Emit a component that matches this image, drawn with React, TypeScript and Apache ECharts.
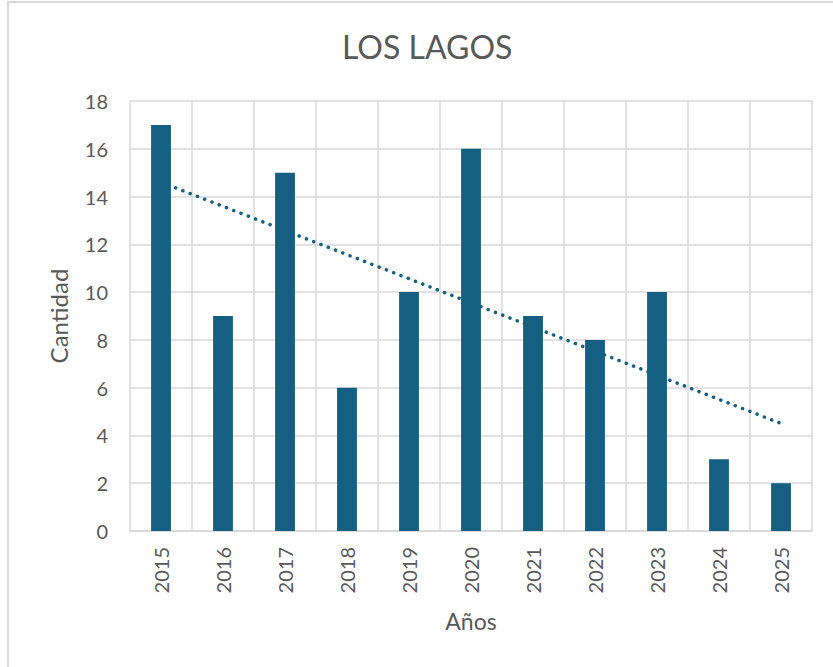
import React, { useEffect, useRef } from "react";
import * as echarts from "echarts";

const titleText = "LOS LAGOS";
const years = ["2015", "2016", "2017", "2018", "2019", "2020", "2021", "2022", "2023", "2024", "2025"];
const cantidad = [17, 9, 15, 6, 10, 16, 9, 8, 10, 3, 2];
// linear trend line: value at 2015 and at 2025
const trend = [14.6, null, null, null, null, null, null, null, null, null, 4.5];
const yTicks = { min: 0, max: 18, interval: 2 };

const FONT = "Lato, 'Open Sans', sans-serif";
const TXT = "#595959";
const GRID = "#d9d9d9";
const BAR = "#156082";

export default function App() {
  const ref = useRef<HTMLDivElement>(null);
  useEffect(() => {
    if (!ref.current) return;
    const chart = echarts.init(ref.current, undefined, { renderer: "svg" });
    chart.setOption({
      animation: false,
      backgroundColor: "#ffffff",
      textStyle: { fontFamily: FONT },
      title: {
        text: titleText,
        left: 337,
        top: 25,
        textStyle: { fontFamily: FONT, fontSize: 32, fontWeight: "normal", color: TXT },
      },
      graphic: [
        {
          type: "rect",
          shape: { x: 8, y: 2, width: 900, height: 800 },
          style: { fill: "none", stroke: GRID, lineWidth: 2 },
          silent: true,
        },
      ],
      grid: { left: 130, right: 21, top: 101, bottom: 136 },
      xAxis: {
        type: "category",
        data: years,
        name: "Años",
        nameLocation: "middle",
        nameGap: 78,
        nameTextStyle: { fontFamily: FONT, fontSize: 23, color: TXT },
        axisLine: { show: true, lineStyle: { color: GRID, width: 2 } },
        axisTick: { show: false },
        splitLine: { show: true, lineStyle: { color: GRID, width: 1.5 } },
        axisLabel: { rotate: 90, margin: 16, fontFamily: FONT, fontSize: 20, color: TXT },
      },
      yAxis: {
        type: "value",
        min: yTicks.min,
        max: yTicks.max,
        interval: yTicks.interval,
        name: "Cantidad",
        nameLocation: "middle",
        nameGap: 60,
        nameTextStyle: { fontFamily: FONT, fontSize: 24, color: TXT },
        axisLine: { show: false },
        axisTick: { show: false },
        splitLine: { show: true, lineStyle: { color: GRID, width: 1.5 } },
        axisLabel: { margin: 22, fontFamily: FONT, fontSize: 20, color: TXT },
      },
      series: [
        {
          type: "line",
          data: trend,
          connectNulls: true,
          symbol: "none",
          z: 2,
          lineStyle: { color: BAR, width: 3.5, type: [0.1, 7.7], cap: "round" },
        },
        {
          type: "bar",
          data: cantidad,
          barWidth: "32%",
          z: 3,
          itemStyle: { color: BAR },
        },
      ],
    });
    return () => chart.dispose();
  }, []);
  return (
    <div
      ref={ref}
      style={{ position: "absolute", left: 0, top: 0, width: 833, height: 667 }}
    />
  );
}
